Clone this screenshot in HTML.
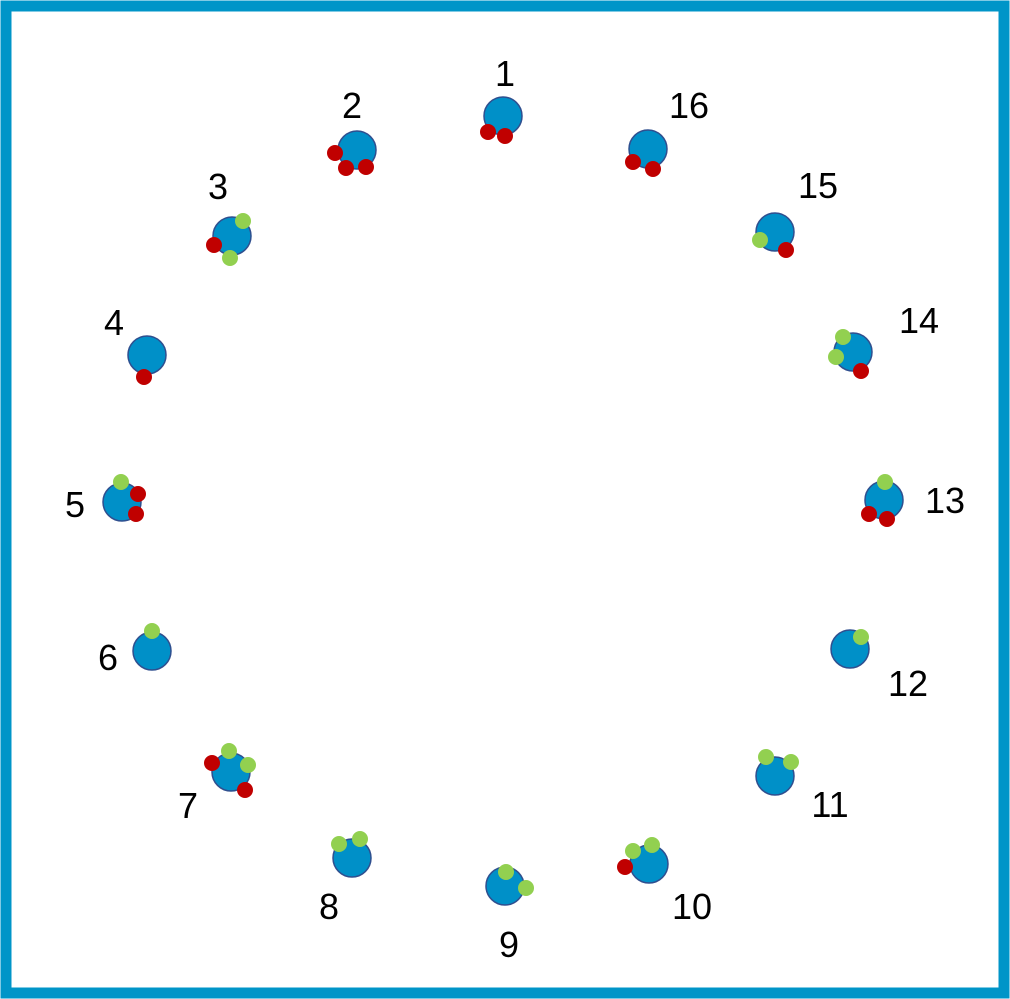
<!DOCTYPE html>
<html><head><meta charset="utf-8"><style>
html,body{margin:0;padding:0;background:#fff}
svg{display:block}
text{font-family:"Liberation Sans",sans-serif;font-size:36px;fill:#000}
</style></head><body>
<svg id="c" width="1010" height="999">
<rect x="6" y="6" width="998" height="987" fill="#fff" stroke="#0095c8" stroke-width="11"/>
</svg>
<script>
const nodeIds=[1,2,3,4,5,6,7,8,9,10,11,12,13,14,15,16];
const nodeX=[503,357,232,147,122,152,231,352,505,649,775,850,884,853,775,648];
const nodeY=[116,150,236,355,502,651,772,858,886,864,776,649,500,352,232,149];
const labelX=[505,352,218,114,75,108,188,329,509,692,830,908,945,919,818,689];
const labelY=[73,105,186,322,504,657,805,906,944,906,804,683,500,320,185,105];
const markers=[
[[1,'r',488,132],[1,'r',505,136]],
[[2,'r',335,153],[2,'r',346,168],[2,'r',366,167]],
[[3,'g',243,221],[3,'r',214,245],[3,'g',230,258]],
[[4,'r',144,377]],
[[5,'g',121,482],[5,'r',138,494],[5,'r',136,514]],
[[6,'g',152,631]],
[[7,'g',229,751],[7,'r',212,763],[7,'g',248,765],[7,'r',245,790]],
[[8,'g',339,844],[8,'g',360,839]],
[[9,'g',506,872],[9,'g',526,888]],
[[10,'g',633,851],[10,'g',652,845],[10,'r',625,867]],
[[11,'g',766,757],[11,'g',791,762]],
[[12,'g',861,637]],
[[13,'g',885,482],[13,'r',869,514],[13,'r',887,519]],
[[14,'g',843,337],[14,'g',836,357],[14,'r',861,371]],
[[15,'g',760,240],[15,'r',786,250]],
[[16,'r',633,162],[16,'r',653,169]]
];
const NS='http://www.w3.org/2000/svg';
const svg=document.getElementById('c');
nodeIds.forEach((id,i)=>{
  const c=document.createElementNS(NS,'circle');
  c.setAttribute('cx',nodeX[i]);c.setAttribute('cy',nodeY[i]);c.setAttribute('r',19);
  c.setAttribute('fill','#0090c8');c.setAttribute('stroke','#2f4f8f');c.setAttribute('stroke-width',1.5);
  
  
  svg.appendChild(c);
  const t=document.createElementNS(NS,'text');
  t.setAttribute('x',labelX[i]);t.setAttribute('y',labelY[i]+13);t.setAttribute('text-anchor','middle');
  t.textContent=id;
  
  
  svg.appendChild(t);
});
markers.forEach(list=>list.forEach(m=>{
  const d=document.createElementNS(NS,'circle');
  d.setAttribute('cx',m[2]);d.setAttribute('cy',m[3]);d.setAttribute('r',8);
  d.setAttribute('fill',m[1]==='r'?'#c00000':'#92d050');
  
  
  svg.appendChild(d);
}));
</script>
</body></html>
